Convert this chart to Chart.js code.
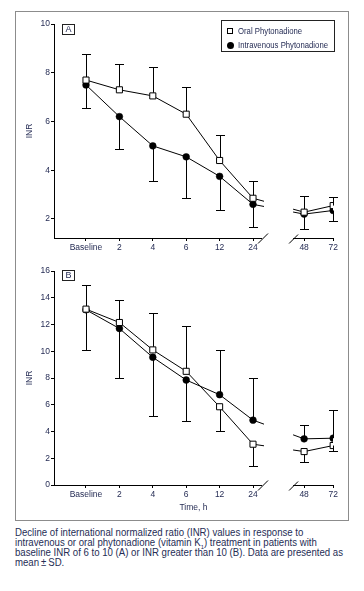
<!DOCTYPE html>
<html>
<head>
<meta charset="utf-8">
<script src="https://cdn.jsdelivr.net/npm/chart.js@4.4.0/dist/chart.umd.min.js"></script>
<style>
  body { margin: 0; background: #fff; }
  #page { position: relative; width: 364px; height: 591px; overflow: hidden;
          font-family: 'Liberation Sans Narrow', 'Liberation Sans', Arial, sans-serif; color: #262d55; }
  #frame { position: absolute; left: 15px; top: 11px; width: 334px; height: 510px;
           box-sizing: border-box; border: 1.5px solid #8c8c8c; }
  canvas { position: absolute; }
  .tag { position: absolute; width: 13px; height: 11px; box-sizing: border-box; border: 1px solid #222;
         font-size: 9px; line-height: 9px; text-align: center; color: #262d55; }
  #legend { position: absolute; left: 221px; top: 20px; width: 114px; height: 32px;
            box-sizing: border-box; border: 1px solid #222; font-size: 9px; }
  #legend .row { position: absolute; left: 16px; height: 10px; line-height: 10px; white-space: nowrap;
                 transform-origin: 0 50%; }
  #legend .mk { position: absolute; box-sizing: border-box; }
  #caption { position: absolute; left: 15px; top: 528px; font-size: 10px; line-height: 10px;
             color: #262d55; white-space: nowrap; }
  #caption span { display: block; transform-origin: 0 50%; }
  #caption sub { font-size: 6px; line-height: 0; }
</style>
</head>
<body>
<div id="page">
  <div id="frame"></div>
  <canvas id="chartA" width="332" height="248" style="left:16px;top:12px;"></canvas>
  <canvas id="chartB" width="332" height="256" style="left:16px;top:262px;"></canvas>
  <div class="tag" style="left:62px;top:24px;">A</div>
  <div class="tag" style="left:62px;top:270px;">B</div>
  <div id="legend"></div>
  <div id="caption"><span>Decline of international normalized ratio (INR) values in response to</span><span>intravenous or oral phytonadione (vitamin K<sub>1</sub>) treatment in patients with</span><span>baseline INR of 6 to 10 (A) or INR greater than 10 (B). Data are presented as</span><span>mean&thinsp;±&thinsp;SD.</span></div>
</div>
<script>
// time points and where they sit on the (broken) x axis
const timeLabels = ['Baseline', '2', '4', '6', '12', '24', '48', '72'];
const timePos = [0, 1, 2, 3, 4, 5, 6.53, 7.4];
const seriesNames = ['Oral Phytonadione', 'Intravenous Phytonadione'];

// panel A: baseline INR 6-10
const oralA = [7.7, 7.3, 7.05, 6.3, 4.4, 2.85, 2.28, 2.55];
const oralASd = [1.06, 1.07, 1.2, 1.1, 1.04, 0.72, 0.68, 0.36];
const oralADir = [1, 1, 1, 1, 1, 1, 1, 1];
const ivA = [7.5, 6.2, 5.0, 4.55, 3.75, 2.6, 2.2, 2.35];
const ivASd = [0.95, 1.34, 1.45, 1.67, 1.39, 0.91, 0.6, 0.45];
const ivADir = [-1, -1, -1, -1, -1, -1, -1, -1];
const ticksA = [2, 4, 6, 8, 10];

// panel B: baseline INR > 10
const oralB = [13.15, 12.15, 10.1, 8.5, 5.85, 3.05, 2.5, 2.95];
const oralBSd = [1.8, 1.65, 2.77, 3.42, 1.82, 1.6, 0.8, 0.4];
const oralBDir = [1, 1, 1, 1, -1, -1, -1, -1];
const ivB = [13.1, 11.7, 9.55, 7.85, 6.75, 4.85, 3.45, 3.5];
const ivBSd = [2.97, 3.69, 4.39, 3.09, 3.37, 3.14, 1.07, 2.12];
const ivBDir = [-1, -1, -1, -1, 1, 1, 1, 1];
const ticksB = [0, 2, 4, 6, 8, 10, 12, 14, 16];

// axis break (in x-axis units)
const GAP_FROM = 5.33, GAP_TO = 6.2;

const TXT = '#262d55';
const FONT = "'Liberation Sans Narrow', 'Liberation Sans', Arial, sans-serif";
const tickFont = { family: FONT, size: 8.5, weight: 'normal condensed' };

// legend box
const legend = document.getElementById('legend');
legend.innerHTML =
  `<div class="mk" style="left:5px;top:7px;width:6px;height:6px;border:1px solid #000;background:#fff"></div>` +
  `<div class="row" style="top:5px">${seriesNames[0]}</div>` +
  `<div class="mk" style="left:4.5px;top:20.5px;width:7px;height:7px;border-radius:50%;background:#000"></div>` +
  `<div class="row" style="top:19px">${seriesNames[1]}</div>`;

// squeeze the html text to the narrow face of the original
const rows = legend.querySelectorAll('.row');
const legW = rows[1].getBoundingClientRect().width;
rows.forEach(r => { r.style.transform = `scaleX(${Math.min(1, 90 / legW)})`; });
const capLines = document.querySelectorAll('#caption span');
const capW = capLines[2].getBoundingClientRect().width;
capLines.forEach(s => { s.style.transform = `scaleX(${Math.min(1, 328 / capW)})`; });

const errorBars = {
  id: 'errorBars',
  beforeDatasetsDraw(chart) {
    const ctx = chart.ctx;
    const ys = chart.scales.y;
    ctx.save();
    ctx.strokeStyle = '#000';
    ctx.lineWidth = 1;
    chart.data.datasets.forEach((ds, d) => {
      const meta = chart.getDatasetMeta(d);
      meta.data.forEach((pt, i) => {
        const v = ds.data[i].y + ds.dir[i] * ds.sd[i];
        const y2 = Math.round(ys.getPixelForValue(v)) + 0.5;
        const x = Math.round(pt.x) + 0.5;
        ctx.beginPath();
        ctx.moveTo(x, pt.y);
        ctx.lineTo(x, y2);
        ctx.moveTo(x - 4.5, y2);
        ctx.lineTo(x + 4.5, y2);
        ctx.stroke();
      });
    });
    ctx.restore();
  }
};

// hide the connecting line inside the axis break
const gapClip = {
  id: 'gapClip',
  beforeDatasetDraw(chart) {
    const { ctx } = chart;
    const xs = chart.scales.x;
    const g1 = xs.getPixelForValue(GAP_FROM), g2 = xs.getPixelForValue(GAP_TO);
    ctx.save();
    ctx.beginPath();
    ctx.rect(0, 0, g1, chart.height);
    ctx.rect(g2, 0, chart.width - g2, chart.height);
    ctx.clip();
  },
  afterDatasetDraw(chart) {
    chart.ctx.restore();
  }
};

const brokenAxis = {
  id: 'brokenAxis',
  afterDraw(chart) {
    const { ctx, chartArea: a } = chart;
    const xs = chart.scales.x;
    const y = Math.round(a.bottom) + 0.5;
    const l = xs.getPixelForValue(5.27), r = xs.getPixelForValue(6.2);
    ctx.save();
    ctx.strokeStyle = '#000';
    ctx.lineWidth = 1;
    ctx.beginPath();
    ctx.moveTo(a.left, y); ctx.lineTo(l, y);
    ctx.moveTo(r, y); ctx.lineTo(a.right, y);
    ctx.moveTo(l - 4, y + 5); ctx.lineTo(l + 6, y - 5);
    ctx.moveTo(r - 4, y + 5); ctx.lineTo(r + 5, y - 4);
    ctx.stroke();
    ctx.restore();
  }
};

function points(vals) {
  return vals.map((v, i) => ({ x: timePos[i], y: v }));
}

function makePanel(id, oral, oralSd, oralDir, iv, ivSd, ivDir, yMin, yMax, yTicks, pad, xHeight, withTitle) {
  return new Chart(document.getElementById(id), {
    type: 'line',
    data: {
      datasets: [
        {
          label: seriesNames[0], data: points(oral), sd: oralSd, dir: oralDir,
          borderColor: '#000', borderWidth: 1, tension: 0,
          pointStyle: 'rect', pointRadius: 4.3, pointBackgroundColor: '#fff',
          pointBorderColor: '#000', pointBorderWidth: 1
        },
        {
          label: seriesNames[1], data: points(iv), sd: ivSd, dir: ivDir,
          borderColor: '#000', borderWidth: 1, tension: 0,
          pointStyle: 'circle', pointRadius: 3.4, pointBackgroundColor: '#000',
          pointBorderColor: '#000', pointBorderWidth: 0.5
        }
      ]
    },
    options: {
      responsive: false,
      animation: false,
      devicePixelRatio: 1,
      layout: { padding: { top: pad.top, right: pad.right, left: 0, bottom: 0 } },
      plugins: { legend: { display: false }, tooltip: { enabled: false } },
      scales: {
        x: {
          type: 'linear', min: -0.958, max: 7.395,
          afterBuildTicks: s => { s.ticks = timePos.map(v => ({ value: v })); },
          afterFit: s => { s.height = xHeight; },
          border: { display: false },
          grid: { display: true, drawOnChartArea: false, drawTicks: true, tickLength: 3, color: '#000' },
          ticks: {
            color: TXT, font: tickFont, padding: 2, maxRotation: 0, autoSkip: false,
            callback: v => timeLabels[timePos.indexOf(v)]
          },
          title: {
            display: withTitle, text: 'Time, h', color: TXT,
            font: tickFont, padding: { top: 0, bottom: 5.6 }
          }
        },
        y: {
          min: yMin, max: yMax,
          afterBuildTicks: s => { s.ticks = yTicks.map(v => ({ value: v })); },
          afterFit: s => { s.width = 38; },
          border: { display: true, color: '#000', width: 1 },
          grid: { display: true, drawOnChartArea: false, drawTicks: true, tickLength: 3, color: '#000' },
          ticks: { color: TXT, font: tickFont, padding: 1 },
          title: {
            display: true, text: 'INR', color: TXT,
            font: tickFont, padding: { top: 8.6, bottom: 0 }
          }
        }
      }
    },
    plugins: [errorBars, gapClip, brokenAxis]
  });
}

makePanel('chartA', oralA, oralASd, oralADir, ivA, ivASd, ivADir, 1.22, 10, ticksA,
  { top: 12, right: 15 }, 22, false);
makePanel('chartB', oralB, oralBSd, oralBDir, ivB, ivBSd, ivBDir, 0, 16, ticksB,
  { top: 9, right: 15 }, 33, true);
</script>
</body>
</html>
